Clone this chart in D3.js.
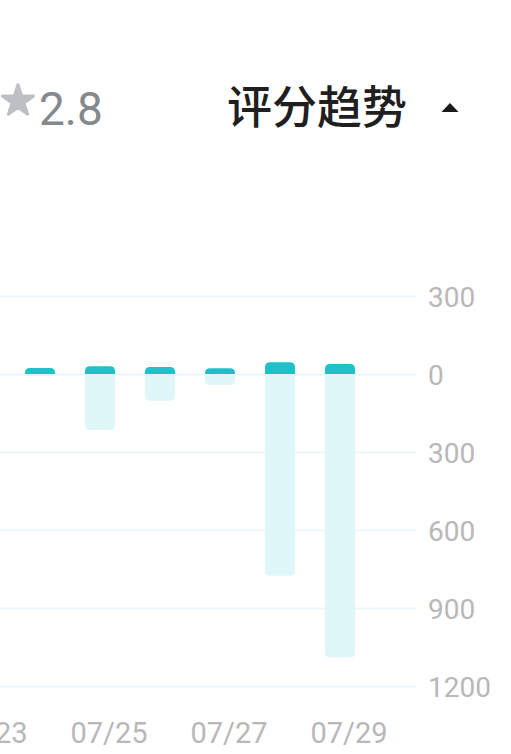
<!DOCTYPE html>
<html>
<head>
<meta charset="utf-8">
<script src="https://cdn.jsdelivr.net/npm/d3@7"></script>
<style>
  body { margin: 0; background: #fff; }
  svg { display: block; }
</style>
</head>
<body>
<svg id="chart" width="511" height="754"></svg>
<script>
// score trend bars: positive part on top (dark), negative part below (light)
const dates = ["07/23", "07/24", "07/25", "07/26", "07/27", "07/28", "07/29"];
const barDates = ["07/24", "07/25", "07/26", "07/27", "07/28", "07/29"];
const upValues = [23, 30, 27, 22, 45, 38];
const downValues = [-8, -215, -103, -42, -776, -1090];
const yTicks = [300, 0, -300, -600, -900, -1200];
const xLabels = ["07/23", "07/25", "07/27", "07/29"];
const score = "2.8";
const title = "评分趋势";

const svg = d3.select("#chart");

const x = d3.scaleBand().domain(dates).range([-50, 370])
    .paddingInner(0.5).paddingOuter(0.25);
const y = d3.scaleLinear().domain([-1200, 300]).range([686, 296]);

// header
const star = d3.symbol().type(d3.symbolStar).size(300);
svg.append("path")
    .attr("d", star())
    .attr("transform", "translate(18,101)")
    .attr("fill", "#bcc0c4")
    .attr("stroke", "#bcc0c4")
    .attr("stroke-width", 3)
    .attr("stroke-linejoin", "round");

svg.append("text")
    .attr("x", 39).attr("y", 125)
    .attr("font-family", "Roboto, sans-serif")
    .attr("font-size", 46)
    .attr("fill", "#84898e")
    .text(score);

svg.append("text")
    .attr("x", 227).attr("y", 124)
    .attr("font-family", "'Noto Sans CJK SC', sans-serif")
    .attr("font-size", 45)
    .attr("font-weight", 500)
    .attr("fill", "#1f1f1f")
    .text(title);

svg.append("path")
    .attr("d", "M441.5,112 L450,103 L458.5,112 Z")
    .attr("fill", "#1a1a1a");

// grid + y labels
const yAxis = d3.axisRight(y)
    .tickValues(yTicks)
    .tickSize(-416)
    .tickPadding(12)
    .tickFormat(d => Math.abs(d));

const gy = svg.append("g")
    .attr("transform", "translate(416,0)")
    .call(yAxis);
gy.select(".domain").remove();
gy.selectAll(".tick line")
    .attr("stroke", "#ecf7fa")
    .attr("stroke-width", 2);
gy.selectAll(".tick text")
    .attr("font-family", "Roboto, sans-serif")
    .attr("font-size", 28)
    .attr("fill", "#b8b8b8")
    .attr("dy", "0.36em");

// bars
const r = 5;
const bw = x.bandwidth();

function topBar(x0, y0, y1) {
    // rounded top corners, flat bottom at y1
    const h = y1 - y0;
    const rr = Math.min(r, h);
    return `M${x0},${y1} L${x0},${y0 + rr} Q${x0},${y0} ${x0 + rr},${y0}
            L${x0 + bw - rr},${y0} Q${x0 + bw},${y0} ${x0 + bw},${y0 + rr}
            L${x0 + bw},${y1} Z`;
}
function bottomBar(x0, y0, y1) {
    // flat top at y0, rounded bottom corners
    const h = y1 - y0;
    const rr = Math.min(r, h);
    return `M${x0},${y0} L${x0 + bw},${y0} L${x0 + bw},${y1 - rr}
            Q${x0 + bw},${y1} ${x0 + bw - rr},${y1} L${x0 + rr},${y1}
            Q${x0},${y1} ${x0},${y1 - rr} Z`;
}

const bars = barDates.map((d, i) => ({ date: d, up: upValues[i], down: downValues[i] }));

svg.append("g").selectAll("path")
    .data(bars)
    .join("path")
    .attr("d", d => bottomBar(x(d.date), y(0), y(d.down)))
    .attr("fill", "#e0f7f9");

svg.append("g").selectAll("path")
    .data(bars)
    .join("path")
    .attr("d", d => topBar(x(d.date), y(d.up), y(0)))
    .attr("fill", "#1fc1c8");

// x labels
svg.append("g").selectAll("text")
    .data(xLabels)
    .join("text")
    .attr("x", d => x(d) + bw / 2 + 9)
    .attr("y", 743)
    .attr("text-anchor", "middle")
    .attr("font-family", "Roboto, sans-serif")
    .attr("font-size", 29)
    .attr("fill", "#b8b8b8")
    .text(d => d);
</script>
</body>
</html>
